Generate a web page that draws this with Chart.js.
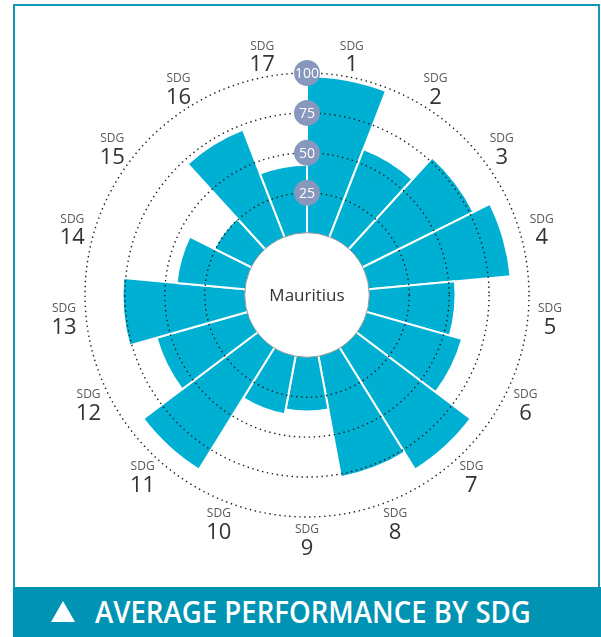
<!DOCTYPE html>
<html>
<head>
<meta charset="utf-8">
<script src="https://cdn.jsdelivr.net/npm/chart.js@4"></script>
<style>
  body { margin: 0; background: #fff; }
  #wrap { position: relative; width: 601px; height: 637px; overflow: hidden; }
  #frame { position: absolute; left: 13px; top: 4px; width: 583px; height: 586px; border: 2px solid #1098b7; }
  #banner { position: absolute; left: 13px; top: 587px; width: 588px; height: 50px; background: #0093b3; color: #fff;
    font-family: "Open Sans", sans-serif; font-weight: 600; font-size: 30px; line-height: 50px; white-space: nowrap; }
  #banner .tri { position: absolute; left: 38px; top: 14px; width: 0; height: 0;
    border-left: 12px solid transparent; border-right: 12px solid transparent; border-bottom: 21px solid #fff; }
  #banner .txt { position: absolute; left: 82px; top: 0; display: inline-block; transform: scaleX(0.92); transform-origin: left center; }
  #grafico { position: absolute; left: 0; top: 0; }
</style>
</head>
<body>
<div id="wrap">
  <div id="frame"></div>
  <div id="banner"><span class="tri"></span><span class="txt">AVERAGE PERFORMANCE BY SDG</span></div>
  <canvas id="grafico" width="601" height="637"></canvas>
</div>
<script>
const categorias = ["1", "2", "3", "4", "5", "6", "7", "8", "9", "10", "11", "12", "13", "14", "15", "16", "17"];
const puntajes = [98, 59, 77.5, 89, 54, 62, 89.5, 77, 34, 37, 89.5, 59, 76.5, 43, 26, 72, 42.5];
const marcas = [25, 50, 75, 100];
const prefijo = "SDG";
const pais = "Mauritius";

const decoracion = {
  id: "decoracion",
  afterDatasetsDraw(chart) {
    const ctx = chart.ctx;
    const r = chart.scales.r;
    const cx = r.xCenter, cy = r.yCenter;

    // circulos punteados
    ctx.save();
    ctx.strokeStyle = "#1a1a1a";
    ctx.lineWidth = 1.4;
    ctx.setLineDash([1.4, 3.6]);
    marcas.forEach(v => {
      ctx.beginPath();
      ctx.arc(cx, cy, r.getDistanceFromCenterForValue(v), 0, Math.PI * 2);
      ctx.stroke();
    });
    ctx.restore();

    // hueco central
    ctx.save();
    ctx.beginPath();
    ctx.arc(cx, cy, r.getDistanceFromCenterForValue(0), 0, Math.PI * 2);
    ctx.fillStyle = "#fff";
    ctx.fill();
    ctx.strokeStyle = "#9a9a9a";
    ctx.lineWidth = 1;
    ctx.stroke();
    ctx.fillStyle = "#333";
    ctx.font = "17px 'Open Sans'";
    ctx.textAlign = "center";
    ctx.textBaseline = "middle";
    ctx.fillText(pais, cx, cy + 1);
    ctx.restore();

    // etiquetas de la escala
    ctx.save();
    ctx.textAlign = "center";
    ctx.textBaseline = "middle";
    marcas.forEach(v => {
      const y = cy - r.getDistanceFromCenterForValue(v);
      ctx.beginPath();
      ctx.arc(cx, y, 13, 0, Math.PI * 2);
      ctx.fillStyle = "#8797bd";
      ctx.fill();
      ctx.fillStyle = "#fff";
      ctx.font = "14px 'Open Sans'";
      ctx.fillText(String(v), cx, y + 1);
    });
    ctx.restore();

    // etiquetas SDG
    ctx.save();
    ctx.textAlign = "center";
    ctx.textBaseline = "middle";
    const n = categorias.length;
    const dist = r.drawingArea + 22;
    categorias.forEach((c, i) => {
      const a = (i + 0.5) * 2 * Math.PI / n - Math.PI / 2;
      const x = cx + Math.cos(a) * dist;
      const y = cy + Math.sin(a) * dist;
      ctx.fillStyle = "#5a5a5a";
      ctx.font = "12px 'Open Sans'";
      ctx.fillText(prefijo, x, y - 9);
      ctx.fillStyle = "#333";
      ctx.font = "22px 'Open Sans'";
      ctx.fillText(c, x, y + 10);
    });
    ctx.restore();
  }
};

new Chart(document.getElementById("grafico").getContext("2d"), {
  type: "polarArea",
  data: {
    labels: categorias.map(c => prefijo + " " + c),
    datasets: [{
      data: puntajes,
      backgroundColor: "#00b0d3",
      borderColor: "#ffffff",
      borderWidth: 2
    }]
  },
  options: {
    responsive: false,
    animation: false,
    layout: { padding: { left: 85, right: 72, top: 73, bottom: 120 } },
    plugins: { legend: { display: false }, tooltip: { enabled: false } },
    scales: {
      r: {
        min: -39,
        max: 100,
        ticks: { display: false },
        grid: { display: false },
        angleLines: { display: false },
        pointLabels: { display: false }
      }
    }
  },
  plugins: [decoracion]
});
</script>
</body>
</html>
